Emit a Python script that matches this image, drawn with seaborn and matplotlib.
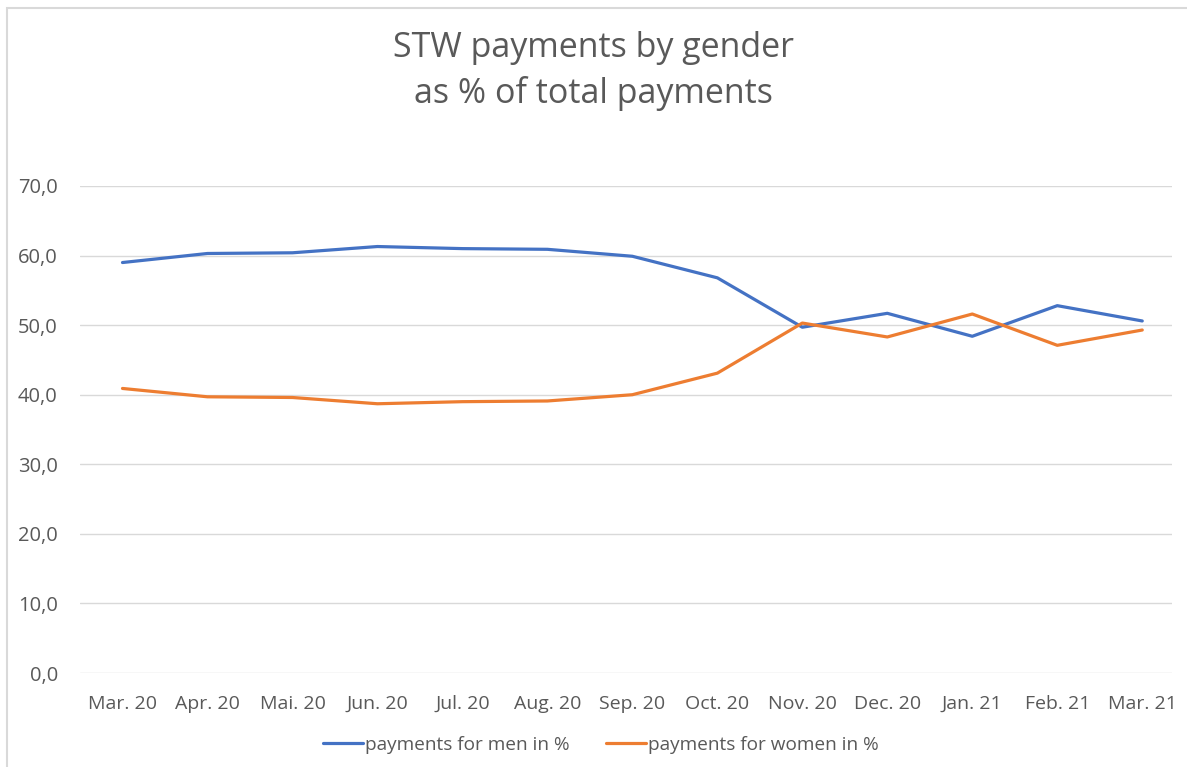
import pandas as pd
import matplotlib.pyplot as plt
import seaborn as sns
from matplotlib.patches import Rectangle

# Data
months = ["Mar. 20", "Apr. 20", "Mai. 20", "Jun. 20", "Jul. 20", "Aug. 20", "Sep. 20",
          "Oct. 20", "Nov. 20", "Dec. 20", "Jan. 21", "Feb. 21", "Mar. 21"]
men = [59.0, 60.3, 60.4, 61.3, 61.0, 60.9, 59.9, 56.8, 49.7, 51.7, 48.4, 52.8, 50.6]
women = [40.9, 39.7, 39.6, 38.7, 39.0, 39.1, 40.0, 43.1, 50.3, 48.3, 51.6, 47.1, 49.3]
series_names = ["payments for men in %", "payments for women in %"]
y_ticks = [0, 10, 20, 30, 40, 50, 60, 70]
y_tick_labels = ["0,0", "10,0", "20,0", "30,0", "40,0", "50,0", "60,0", "70,0"]

df = pd.DataFrame({
    "idx": list(range(len(months))) * 2,
    "value": men + women,
    "series": [series_names[0]] * len(months) + [series_names[1]] * len(months),
})

sns.set_style("white")
plt.rcParams["font.family"] = ["Open Sans", "DejaVu Sans"]
grey = "#595959"

fig = plt.figure(figsize=(11.87, 7.67), dpi=100)
ax = fig.add_axes([80 / 1187, 1 - 673 / 767, (1172 - 80) / 1187, (673 - 186) / 767])

sns.lineplot(data=df, x="idx", y="value", hue="series",
             palette=["#4472C4", "#ED7D31"], linewidth=2.3, ax=ax, legend=True)
for line in ax.lines:
    line.set_solid_joinstyle("round")
    line.set_solid_capstyle("round")

ax.set_xlim(-0.5, 12.35)
ax.set_ylim(0, 70)
ax.set_yticks(y_ticks)
ax.set_yticklabels(y_tick_labels)
ax.set_xticks(range(len(months)))
ax.set_xticklabels(months)
ax.tick_params(axis="x", length=0, labelsize=14, colors=grey, pad=16)
ax.tick_params(axis="y", length=0, labelsize=14.5, colors=grey, pad=16)
ax.yaxis.grid(True, color="#d9d9d9", linewidth=1)
ax.set_axisbelow(True)
for s in ax.spines.values():
    s.set_visible(False)
ax.set_xlabel("")
ax.set_ylabel("")

ax.legend(loc="center", bbox_to_anchor=(0.477, -0.148), ncol=2, frameon=False,
          fontsize=13.7, labelcolor=grey, handlelength=2.1, handletextpad=0.1,
          columnspacing=1.9)

fig.text(0.5, 1 - 71 / 767, "STW payments by gender\nas % of total payments",
         ha="center", va="center", fontsize=24.5, color=grey, linespacing=1.4)

# chart area border (Excel style)
fig.patches.append(Rectangle((7 / 1187, -0.01), 1.02, 1 - 8 / 767 + 0.01,
                             transform=fig.transFigure, fill=False,
                             edgecolor="#d9d9d9", linewidth=1.5))

fig.savefig("out.png", dpi=100)
